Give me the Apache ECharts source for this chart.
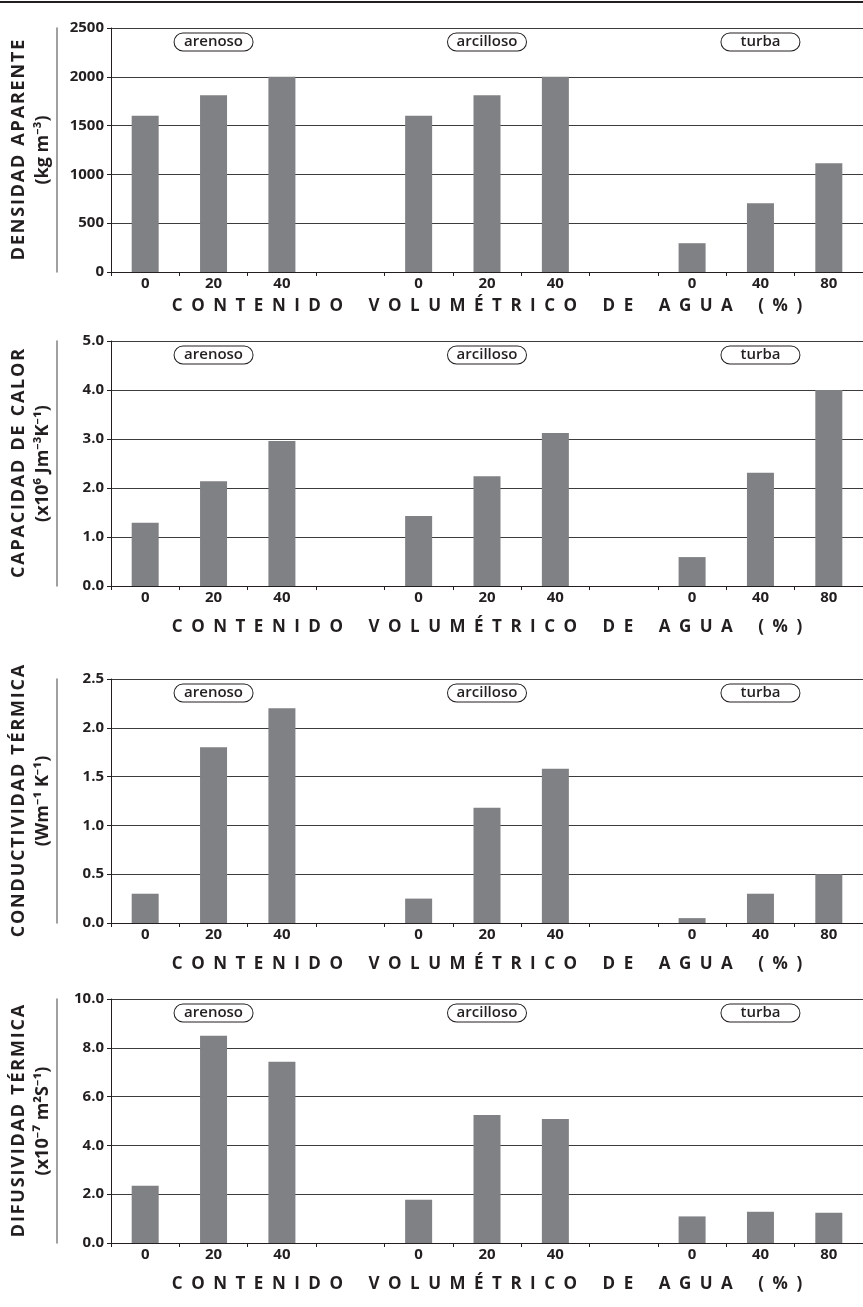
<!DOCTYPE html>
<html>
<head>
<meta charset="utf-8">
<script src="https://cdn.jsdelivr.net/npm/echarts@6/dist/echarts.min.js"></script>
<style>
  html, body { margin: 0; padding: 0; background: #fff; }
  #chart { width: 863px; height: 1307px; }
</style>
</head>
<body>
<div id="chart"></div>
<script>
// categories (water content %), empty slots separate the soils
var categories = ['0', '20', '40', '', '0', '20', '40', '', '0', '40', '80'];

var densidad      = [1600, 1810, 2000, null, 1600, 1810, 2000, null, 295, 705, 1115];
var capacidad     = [1.29, 2.14, 2.96, null, 1.43, 2.24, 3.12, null, 0.59, 2.31, 4.00];
var conductividad = [0.30, 1.80, 2.20, null, 0.25, 1.18, 1.58, null, 0.05, 0.30, 0.50];
var difusividad   = [2.35, 8.49, 7.43, null, 1.77, 5.25, 5.08, null, 1.09, 1.28, 1.24];

var soilNames = ['arenoso', 'arcilloso', 'turba'];
var soilSlots = [1, 5, 9];

var yMax  = [2500, 5, 2.5, 10];
var yStep = [500, 1, 0.5, 2];
var yDecimals = [0, 1, 1, 1];

var yTitles = ['DENSIDAD APARENTE', 'CAPACIDAD DE CALOR', 'CONDUCTIVIDAD TÉRMICA', 'DIFUSIVIDAD TÉRMICA'];
var yUnits  = ['(kg m⁻³)', '(x10⁶ Jm⁻³K⁻¹)', '(Wm⁻¹ K⁻¹)', '(x10⁻⁷ m²S⁻¹)'];
var xTitle  = 'CONTENIDO VOLUMÉTRICO DE AGUA (%)';

var panels = [densidad, capacidad, conductividad, difusividad];

// layout
var gridTops    = [28, 341, 679, 999];
var gridHeights = [244, 245, 244, 244];
var lineOffsets = [23, 27, 27, 27];
var titleGaps   = [3, 6, 6, 6];

var FONT = '"Open Sans", "Noto Sans", sans-serif';
var INK = '#231f20';

function spaced(text, ls, ws) {
    return text.split(' ').map(function (w) { return w.split('').join(ls); }).join(ws);
}

var chartDom = document.getElementById('chart');
var myChart = echarts.init(chartDom);

var grids = [], xAxes = [], yAxes = [], series = [];

panels.forEach(function (values, i) {
    grids.push({ left: 111, right: 0, top: gridTops[i], height: gridHeights[i] });

    // main category axis
    xAxes.push({
        type: 'category', gridIndex: i, data: categories,
        axisLine: { lineStyle: { color: INK, width: 1 } },
        axisTick: { show: true, length: 4, lineStyle: { color: INK } },
        axisLabel: { color: INK, fontFamily: FONT, fontWeight: 'bold', fontSize: 15, margin: 4 }
    });
    // rule under the tick labels, carries the axis title
    xAxes.push({
        type: 'category', gridIndex: i, data: categories, position: 'bottom', offset: lineOffsets[i],
        axisLine: { lineStyle: { color: INK, width: 1 } },
        axisTick: { show: false }, axisLabel: { show: false }, splitLine: { show: false },
        name: spaced(xTitle, '\u2002', '\u2003\u2002'),
        nameLocation: 'middle', nameGap: titleGaps[i],
        nameTextStyle: { color: INK, fontFamily: FONT, fontWeight: 'bold', fontSize: 17, verticalAlign: 'top' }
    });

    yAxes.push({
        type: 'value', gridIndex: i, min: 0, max: yMax[i], interval: yStep[i],
        axisLine: { show: true, lineStyle: { color: INK, width: 1 } },
        axisTick: { show: true, length: 4, lineStyle: { color: INK } },
        axisLabel: {
            color: INK, fontFamily: FONT, fontWeight: 'bold', fontSize: 15, margin: 7,
            formatter: (function (d) { return function (v) { return v.toFixed(d); }; })(yDecimals[i])
        },
        splitLine: { show: true, lineStyle: { color: '#3c3c3c', width: 1 } }
    });
    // grey rule left of the tick labels, carries the axis title
    yAxes.push({
        type: 'value', gridIndex: i, min: 0, max: yMax[i], interval: yStep[i], position: 'left', offset: 54,
        axisLine: { show: true, lineStyle: { color: '#808080', width: 1.5 } },
        axisTick: { show: false }, axisLabel: { show: false }, splitLine: { show: false },
        name: '{a|' + spaced(yTitles[i], '\u200A', '\u2002') + '}\n{b|' + yUnits[i] + '}',
        nameLocation: 'middle', nameGap: 3,
        nameTextStyle: {
            rich: {
                a: { color: INK, fontFamily: FONT, fontWeight: 'bold', fontSize: 18, lineHeight: 25 },
                b: { color: INK, fontFamily: FONT, fontWeight: 'bold', fontSize: 18, lineHeight: 23 }
            }
        }
    });

    var labelY = yMax[i] * 0.943;
    series.push({
        type: 'bar', xAxisIndex: i * 2, yAxisIndex: i * 2, data: values,
        barWidth: 27, itemStyle: { color: '#808184' },
        markPoint: {
            symbol: 'circle', symbolSize: 1, itemStyle: { color: 'rgba(0,0,0,0)' },
            data: soilNames.map(function (name, k) {
                return { name: name, coord: [soilSlots[k], labelY] };
            }),
            label: {
                show: true, position: 'inside', formatter: '{b}',
                color: INK, fontFamily: FONT, fontSize: 15, fontWeight: 600,
                backgroundColor: '#fff', borderColor: INK, borderWidth: 1, borderRadius: 10,
                width: 74, align: 'center', padding: [1, 2, 1, 2]
            }
        }
    });
});

var option = {
    animation: false,
    grid: grids,
    xAxis: xAxes,
    yAxis: yAxes,
    series: series,
    graphic: [{
        type: 'line', shape: { x1: 0, y1: 2, x2: 863, y2: 2 },
        style: { stroke: INK, lineWidth: 2 }
    }]
};

option && myChart.setOption(option);
</script>
</body>
</html>
